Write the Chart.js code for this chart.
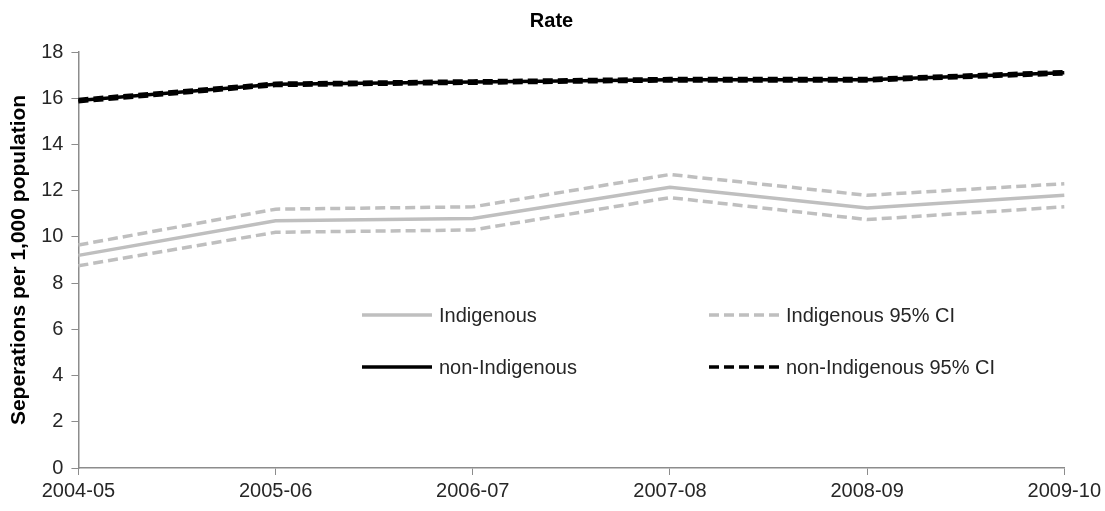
<!DOCTYPE html>
<html>
<head>
<meta charset="utf-8">
<script src="https://cdn.jsdelivr.net/npm/chart.js@4/dist/chart.umd.min.js"></script>
<style>
  body { margin: 0; background: #fff; }
  #wrap { width: 1105px; height: 511px; }
</style>
</head>
<body>
<div id="wrap"><canvas id="grafico-taxa"></canvas></div>
<script>
const anos = ['2004-05', '2005-06', '2006-07', '2007-08', '2008-09', '2009-10'];
const indigena = [9.2, 10.7, 10.8, 12.15, 11.25, 11.8];
const indigenaInf = [8.75, 10.2, 10.3, 11.7, 10.75, 11.3];
const indigenaSup = [9.65, 11.2, 11.3, 12.7, 11.8, 12.3];
const naoIndigena = [15.9, 16.6, 16.7, 16.8, 16.8, 17.1];
const naoIndigenaInf = [15.85, 16.55, 16.65, 16.75, 16.75, 17.05];
const naoIndigenaSup = [15.95, 16.65, 16.75, 16.85, 16.85, 17.15];
const eixoY = { min: 0, max: 18, passo: 2 };

const cinza = '#bfbfbf';
const fonte = '"Liberation Sans", Arial, sans-serif';

function serie(label, data, cor, tracejado, ordem) {
  return {
    label: label,
    data: data,
    borderColor: cor,
    backgroundColor: cor,
    borderWidth: 3.5,
    borderDash: tracejado ? [10, 5] : [],
    pointRadius: 0,
    tension: 0,
    fill: false,
    order: ordem
  };
}

// legenda desenhada dentro da area do grafico (2 x 2)
const legendaInterna = {
  id: 'legendaInterna',
  afterDatasetsDraw(chart) {
    const ctx = chart.ctx;
    const itens = [
      { ds: 0, x: 362, y: 315 },
      { ds: 1, x: 709, y: 315 },
      { ds: 3, x: 362, y: 367 },
      { ds: 4, x: 709, y: 367 }
    ];
    ctx.save();
    itens.forEach(function (it) {
      const d = chart.data.datasets[it.ds];
      ctx.beginPath();
      ctx.strokeStyle = d.borderColor;
      ctx.lineWidth = d.borderWidth;
      ctx.setLineDash(d.borderDash);
      ctx.moveTo(it.x, it.y);
      ctx.lineTo(it.x + 70, it.y);
      ctx.stroke();
      ctx.setLineDash([]);
      ctx.fillStyle = '#262626';
      ctx.font = '20px ' + fonte;
      ctx.textBaseline = 'middle';
      ctx.fillText(d.label, it.x + 77, it.y + 1);
    });
    ctx.restore();
  }
};

const config = {
  type: 'line',
  data: {
    labels: anos,
    datasets: [
      serie('Indigenous', indigena, cinza, false, 4),
      serie('Indigenous 95% CI', indigenaSup, cinza, true, 3),
      serie('Indigenous 95% CI', indigenaInf, cinza, true, 3),
      serie('non-Indigenous', naoIndigena, '#000', false, 2),
      serie('non-Indigenous 95% CI', naoIndigenaSup, '#000', true, 1),
      serie('non-Indigenous 95% CI', naoIndigenaInf, '#000', true, 1)
    ]
  },
  options: {
    responsive: true,
    maintainAspectRatio: false,
    animation: false,
    layout: { padding: { top: 0, right: 9, bottom: 4, left: 7 } },
    plugins: {
      legend: { display: false },
      tooltip: { enabled: false },
      title: {
        display: true,
        text: 'Rate',
        color: '#000',
        font: { family: fonte, size: 20, weight: 'bold' },
        padding: { top: 9, bottom: 19 }
      }
    },
    scales: {
      x: {
        offset: false,
        grid: { display: true, drawOnChartArea: false, tickLength: 7, color: '#8c8c8c' },
        border: { color: '#8c8c8c', width: 1.5 },
        ticks: { color: '#262626', font: { family: fonte, size: 20 }, padding: 4, maxRotation: 0 }
      },
      y: {
        min: eixoY.min,
        max: eixoY.max,
        grid: { display: true, drawOnChartArea: false, tickLength: 7, color: '#8c8c8c' },
        border: { color: '#8c8c8c', width: 1.5 },
        ticks: { stepSize: eixoY.passo, color: '#262626', font: { family: fonte, size: 20 }, padding: 8 },
        title: {
          display: true,
          text: 'Seperations per 1,000 population',
          color: '#000',
          font: { family: fonte, size: 21, weight: 'bold' },
          padding: { top: 0, bottom: 1 }
        }
      }
    }
  },
  plugins: [legendaInterna]
};

const grafico = new Chart(document.getElementById('grafico-taxa'), config);
</script>
</body>
</html>
